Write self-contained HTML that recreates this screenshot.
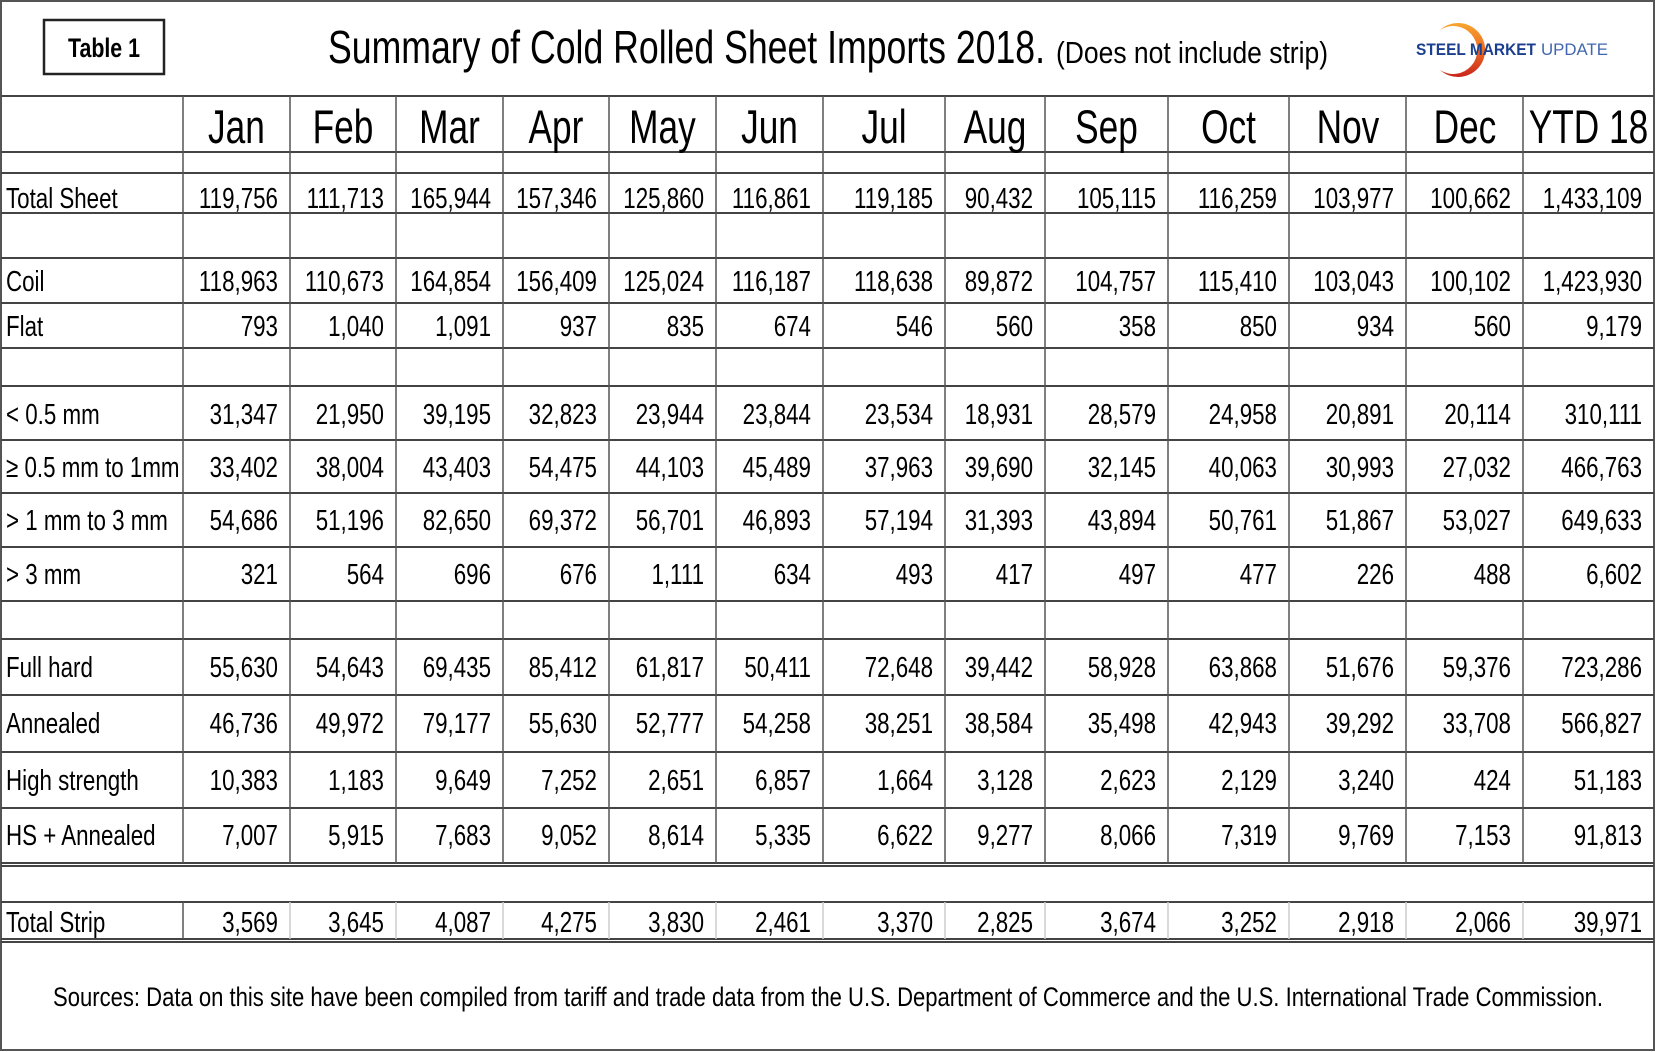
<!DOCTYPE html>
<html><head><meta charset="utf-8"><style>
html,body{margin:0;padding:0;background:#fff;}
svg{display:block;}
text{font-family:"Liberation Sans",Arial,sans-serif;fill:#000;}
.d text{font-size:29px;text-anchor:end;}
.l text{font-size:29px;}
.h text{font-size:47px;text-anchor:middle;}
</style></head><body>
<svg width="1656" height="1052" viewBox="0 0 1656 1052" xmlns="http://www.w3.org/2000/svg">
<rect x="0" y="0" width="1656" height="1052" fill="#fff"/>
<rect x="1" y="1" width="1653" height="1049" fill="none" stroke="#555" stroke-width="2"/>
<!-- title area -->
<rect x="44" y="20" width="120" height="54" fill="none" stroke="#222" stroke-width="2.5"/>
<text x="68" y="57" font-size="27" font-weight="bold" textLength="72" lengthAdjust="spacingAndGlyphs">Table 1</text>
<text x="328" y="63" font-size="46" textLength="717" lengthAdjust="spacingAndGlyphs">Summary of Cold Rolled Sheet Imports 2018.</text>
<text x="1056" y="63" font-size="31" textLength="272" lengthAdjust="spacingAndGlyphs">(Does not include strip)</text>
<!-- logo -->
<defs><linearGradient id="g" x1="0" y1="0" x2="0" y2="1"><stop offset="0" stop-color="#f7a531"/><stop offset="0.5" stop-color="#ee6a22"/><stop offset="1" stop-color="#c8251c"/></linearGradient></defs>
<path d="M1440 30 A27 27 0 1 1 1440 70 A24 24 0 1 0 1440 30 Z" fill="url(#g)"/>
<text x="1416" y="55" font-size="17" font-weight="bold" fill="#1b3f8f" style="fill:#1b3f8f" textLength="120" lengthAdjust="spacingAndGlyphs">STEEL MARKET</text>
<text x="1541" y="55" font-size="17" style="fill:#4266ad" textLength="67" lengthAdjust="spacingAndGlyphs">UPDATE</text>
<!-- horizontal lines -->
<g stroke="#444" stroke-width="2">
<line x1="1" y1="96" x2="1654" y2="96"/>
<line x1="1" y1="152" x2="1654" y2="152"/>
<line x1="1" y1="173" x2="1654" y2="173"/>
<line x1="1" y1="213" x2="1654" y2="213"/>
<line x1="1" y1="258" x2="1654" y2="258"/>
<line x1="1" y1="303" x2="1654" y2="303"/>
<line x1="1" y1="348" x2="1654" y2="348"/>
<line x1="1" y1="386" x2="1654" y2="386"/>
<line x1="1" y1="440" x2="1654" y2="440"/>
<line x1="1" y1="493" x2="1654" y2="493"/>
<line x1="1" y1="547" x2="1654" y2="547"/>
<line x1="1" y1="601" x2="1654" y2="601"/>
<line x1="1" y1="639" x2="1654" y2="639"/>
<line x1="1" y1="695" x2="1654" y2="695"/>
<line x1="1" y1="752" x2="1654" y2="752"/>
<line x1="1" y1="808" x2="1654" y2="808"/>
<line x1="1" y1="863" x2="1654" y2="863"/>
<line x1="1" y1="866" x2="1654" y2="866"/>
<line x1="1" y1="902" x2="1654" y2="902"/>
<line x1="1" y1="939" x2="1654" y2="939"/>
<line x1="1" y1="942" x2="1654" y2="942"/>
</g>
<!-- vertical lines -->
<g stroke="#555" stroke-width="1.5">
<line x1="183" y1="96" x2="183" y2="863"/><line x1="290" y1="96" x2="290" y2="863"/>
<line x1="396" y1="96" x2="396" y2="863"/><line x1="503" y1="96" x2="503" y2="863"/>
<line x1="609" y1="96" x2="609" y2="863"/><line x1="716" y1="96" x2="716" y2="863"/>
<line x1="823" y1="96" x2="823" y2="863"/><line x1="945" y1="96" x2="945" y2="863"/>
<line x1="1045" y1="96" x2="1045" y2="863"/><line x1="1168" y1="96" x2="1168" y2="863"/>
<line x1="1289" y1="96" x2="1289" y2="863"/><line x1="1406" y1="96" x2="1406" y2="863"/>
<line x1="1523" y1="96" x2="1523" y2="863"/>
</g>
<g stroke="#ccc" stroke-width="1.5">
<line x1="290" y1="902" x2="290" y2="939"/><line x1="396" y1="902" x2="396" y2="939"/>
<line x1="503" y1="902" x2="503" y2="939"/><line x1="609" y1="902" x2="609" y2="939"/>
<line x1="716" y1="902" x2="716" y2="939"/><line x1="823" y1="902" x2="823" y2="939"/>
<line x1="945" y1="902" x2="945" y2="939"/><line x1="1045" y1="902" x2="1045" y2="939"/>
<line x1="1168" y1="902" x2="1168" y2="939"/><line x1="1289" y1="902" x2="1289" y2="939"/>
<line x1="1406" y1="902" x2="1406" y2="939"/><line x1="1523" y1="902" x2="1523" y2="939"/>
</g>
<line x1="183" y1="902" x2="183" y2="939" stroke="#555" stroke-width="1.5"/>
<!-- header -->
<g class="h" transform="scale(0.75,1)">
<text x="315.3" y="143">Jan</text><text x="457.3" y="143">Feb</text><text x="599.3" y="143">Mar</text>
<text x="741.3" y="143">Apr</text><text x="883.3" y="143">May</text><text x="1026" y="143">Jun</text>
<text x="1178.7" y="143">Jul</text><text x="1326.7" y="143">Aug</text><text x="1475.3" y="143">Sep</text>
<text x="1638" y="143">Oct</text><text x="1797.3" y="143">Nov</text><text x="1953.3" y="143">Dec</text>
<text x="2118" y="143">YTD 18</text>
</g>
<!-- labels -->
<g class="l" transform="scale(0.77,1)">
<text x="7.8" y="208">Total Sheet</text>
<text x="7.8" y="291">Coil</text>
<text x="7.8" y="336">Flat</text>
<text x="7.8" y="424">&lt; 0.5 mm</text>
<text x="7.8" y="477">≥ 0.5 mm to 1mm</text>
<text x="7.8" y="530">&gt; 1 mm to 3 mm</text>
<text x="7.8" y="584">&gt; 3 mm</text>
<text x="7.8" y="677">Full hard</text>
<text x="7.8" y="733">Annealed</text>
<text x="7.8" y="790">High strength</text>
<text x="7.8" y="845">HS + Annealed</text>
<text x="7.8" y="932">Total Strip</text>
</g>
<!-- data -->
<g class="d" transform="scale(0.77,1)">
<g transform="translate(0,208)"><text x="361">119,756</text><text x="498.7">111,713</text><text x="637.7">165,944</text><text x="775.3">157,346</text><text x="914.3">125,860</text><text x="1053.2">116,861</text><text x="1211.7">119,185</text><text x="1341.6">90,432</text><text x="1501.3">105,115</text><text x="1658.4">116,259</text><text x="1810.4">103,977</text><text x="1962.3">100,662</text><text x="2132.5">1,433,109</text></g>
<g transform="translate(0,291)"><text x="361">118,963</text><text x="498.7">110,673</text><text x="637.7">164,854</text><text x="775.3">156,409</text><text x="914.3">125,024</text><text x="1053.2">116,187</text><text x="1211.7">118,638</text><text x="1341.6">89,872</text><text x="1501.3">104,757</text><text x="1658.4">115,410</text><text x="1810.4">103,043</text><text x="1962.3">100,102</text><text x="2132.5">1,423,930</text></g>
<g transform="translate(0,336)"><text x="361">793</text><text x="498.7">1,040</text><text x="637.7">1,091</text><text x="775.3">937</text><text x="914.3">835</text><text x="1053.2">674</text><text x="1211.7">546</text><text x="1341.6">560</text><text x="1501.3">358</text><text x="1658.4">850</text><text x="1810.4">934</text><text x="1962.3">560</text><text x="2132.5">9,179</text></g>
<g transform="translate(0,424)"><text x="361">31,347</text><text x="498.7">21,950</text><text x="637.7">39,195</text><text x="775.3">32,823</text><text x="914.3">23,944</text><text x="1053.2">23,844</text><text x="1211.7">23,534</text><text x="1341.6">18,931</text><text x="1501.3">28,579</text><text x="1658.4">24,958</text><text x="1810.4">20,891</text><text x="1962.3">20,114</text><text x="2132.5">310,111</text></g>
<g transform="translate(0,477)"><text x="361">33,402</text><text x="498.7">38,004</text><text x="637.7">43,403</text><text x="775.3">54,475</text><text x="914.3">44,103</text><text x="1053.2">45,489</text><text x="1211.7">37,963</text><text x="1341.6">39,690</text><text x="1501.3">32,145</text><text x="1658.4">40,063</text><text x="1810.4">30,993</text><text x="1962.3">27,032</text><text x="2132.5">466,763</text></g>
<g transform="translate(0,530)"><text x="361">54,686</text><text x="498.7">51,196</text><text x="637.7">82,650</text><text x="775.3">69,372</text><text x="914.3">56,701</text><text x="1053.2">46,893</text><text x="1211.7">57,194</text><text x="1341.6">31,393</text><text x="1501.3">43,894</text><text x="1658.4">50,761</text><text x="1810.4">51,867</text><text x="1962.3">53,027</text><text x="2132.5">649,633</text></g>
<g transform="translate(0,584)"><text x="361">321</text><text x="498.7">564</text><text x="637.7">696</text><text x="775.3">676</text><text x="914.3">1,111</text><text x="1053.2">634</text><text x="1211.7">493</text><text x="1341.6">417</text><text x="1501.3">497</text><text x="1658.4">477</text><text x="1810.4">226</text><text x="1962.3">488</text><text x="2132.5">6,602</text></g>
<g transform="translate(0,677)"><text x="361">55,630</text><text x="498.7">54,643</text><text x="637.7">69,435</text><text x="775.3">85,412</text><text x="914.3">61,817</text><text x="1053.2">50,411</text><text x="1211.7">72,648</text><text x="1341.6">39,442</text><text x="1501.3">58,928</text><text x="1658.4">63,868</text><text x="1810.4">51,676</text><text x="1962.3">59,376</text><text x="2132.5">723,286</text></g>
<g transform="translate(0,733)"><text x="361">46,736</text><text x="498.7">49,972</text><text x="637.7">79,177</text><text x="775.3">55,630</text><text x="914.3">52,777</text><text x="1053.2">54,258</text><text x="1211.7">38,251</text><text x="1341.6">38,584</text><text x="1501.3">35,498</text><text x="1658.4">42,943</text><text x="1810.4">39,292</text><text x="1962.3">33,708</text><text x="2132.5">566,827</text></g>
<g transform="translate(0,790)"><text x="361">10,383</text><text x="498.7">1,183</text><text x="637.7">9,649</text><text x="775.3">7,252</text><text x="914.3">2,651</text><text x="1053.2">6,857</text><text x="1211.7">1,664</text><text x="1341.6">3,128</text><text x="1501.3">2,623</text><text x="1658.4">2,129</text><text x="1810.4">3,240</text><text x="1962.3">424</text><text x="2132.5">51,183</text></g>
<g transform="translate(0,845)"><text x="361">7,007</text><text x="498.7">5,915</text><text x="637.7">7,683</text><text x="775.3">9,052</text><text x="914.3">8,614</text><text x="1053.2">5,335</text><text x="1211.7">6,622</text><text x="1341.6">9,277</text><text x="1501.3">8,066</text><text x="1658.4">7,319</text><text x="1810.4">9,769</text><text x="1962.3">7,153</text><text x="2132.5">91,813</text></g>
<g transform="translate(0,932)"><text x="361">3,569</text><text x="498.7">3,645</text><text x="637.7">4,087</text><text x="775.3">4,275</text><text x="914.3">3,830</text><text x="1053.2">2,461</text><text x="1211.7">3,370</text><text x="1341.6">2,825</text><text x="1501.3">3,674</text><text x="1658.4">3,252</text><text x="1810.4">2,918</text><text x="1962.3">2,066</text><text x="2132.5">39,971</text></g>
</g>
<text x="53" y="1006" font-size="27" textLength="1550" lengthAdjust="spacingAndGlyphs">Sources: Data on this site have been compiled from tariff and trade data from the U.S. Department of Commerce and the U.S. International Trade Commission.</text>
</svg>
</body></html>
